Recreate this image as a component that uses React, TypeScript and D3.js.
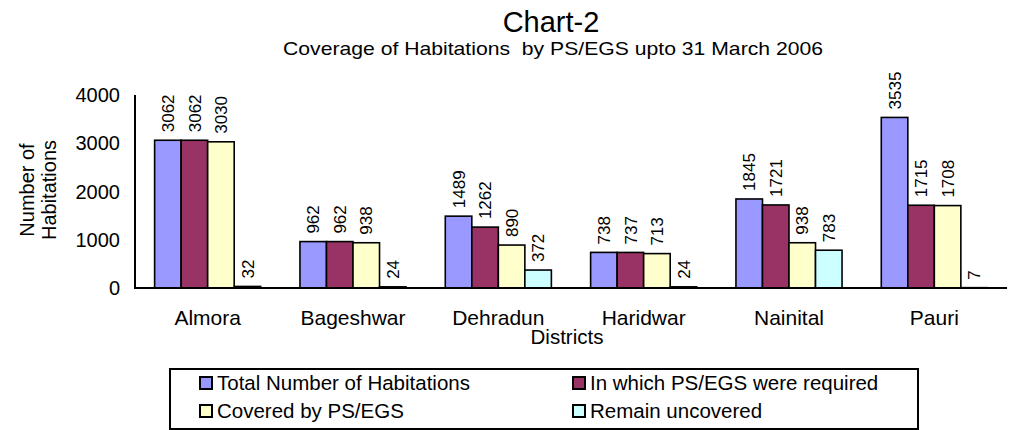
import React, { useEffect, useRef } from 'react';
import * as d3 from 'd3';

// chart values
const districts = ['Almora', 'Bageshwar', 'Dehradun', 'Haridwar', 'Nainital', 'Pauri'];
const seriesNames = [
  'Total Number of Habitations',
  'In which PS/EGS were required',
  'Covered by PS/EGS',
  'Remain uncovered',
];
const totalHabitations = [3062, 962, 1489, 738, 1845, 3535];
const psEgsRequired = [3062, 962, 1262, 737, 1721, 1715];
const coveredByPsEgs = [3030, 938, 890, 713, 938, 1708];
const remainUncovered = [32, 24, 372, 24, 783, 7];
const yTicks = [0, 1000, 2000, 3000, 4000];
const seriesColors = ['#9999FF', '#993366', '#FFFFCC', '#CCFFFF'];

const App = () => {
  const svgRef = useRef<SVGSVGElement>(null);

  useEffect(() => {
    const width = 1009;
    const height = 430;
    const font = '"Liberation Sans", Arial, sans-serif';

    const svg = d3.select(svgRef.current);
    svg.selectAll('*').remove();
    svg.attr('width', width).attr('height', height).style('font-family', font);

    const allSeries = [totalHabitations, psEgsRequired, coveredByPsEgs, remainUncovered];

    // scales
    const x = d3.scaleBand<string>()
      .domain(districts)
      .range([135, 1007])
      .paddingInner(0.27)
      .paddingOuter(0.135);
    const xSub = d3.scaleBand<number>()
      .domain(d3.range(seriesNames.length))
      .range([0, x.bandwidth()]);
    const y = d3.scaleLinear().domain([0, 4000]).range([288, 95]);

    // titles
    svg.append('text')
      .attr('x', 551).attr('y', 32)
      .attr('text-anchor', 'middle')
      .attr('font-size', 29)
      .text('Chart-2');
    svg.append('text')
      .attr('x', 553).attr('y', 55)
      .attr('text-anchor', 'middle')
      .attr('font-size', 18.5)
      .attr('textLength', 540)
      .attr('lengthAdjust', 'spacingAndGlyphs')
      .style('white-space', 'pre')
      .text('Coverage of Habitations  by PS/EGS upto 31 March 2006');

    // y tick labels
    svg.append('g').selectAll('text')
      .data(yTicks)
      .enter()
      .append('text')
      .attr('x', 120)
      .attr('y', d => y(d))
      .attr('dy', '0.36em')
      .attr('text-anchor', 'end')
      .attr('font-size', 20)
      .text(d => d);

    // y axis title (two lines)
    const yTitle = svg.append('text')
      .attr('transform', 'translate(27,190) rotate(-90)')
      .attr('text-anchor', 'middle')
      .attr('font-size', 20);
    yTitle.append('tspan').attr('x', 0).attr('dy', '0.35em').text('Number of');
    yTitle.append('tspan').attr('x', 0).attr('dy', '1.08em').text('Habitations');

    // bars
    const groups = svg.append('g').selectAll('g')
      .data(districts)
      .enter()
      .append('g')
      .attr('transform', d => `translate(${x(d)},0)`);

    groups.each(function (_d, di) {
      const g = d3.select(this);
      allSeries.forEach((vals, si) => {
        const v = vals[di];
        const bx = xSub(si) as number;
        g.append('rect')
          .attr('x', bx)
          .attr('y', y(v))
          .attr('width', xSub.bandwidth())
          .attr('height', y(0) - y(v))
          .attr('fill', seriesColors[si])
          .attr('stroke', '#000')
          .attr('stroke-width', 1.6);
        g.append('text')
          .attr('transform', `translate(${bx + xSub.bandwidth() / 2},${y(v) - 8}) rotate(-90)`)
          .attr('dy', '0.36em')
          .attr('font-size', 17)
          .text(v);
      });
    });

    // axes lines
    svg.append('line')
      .attr('x1', 135).attr('x2', 135)
      .attr('y1', y(4000)).attr('y2', y(0))
      .attr('stroke', '#000').attr('stroke-width', 2);
    svg.append('line')
      .attr('x1', 134).attr('x2', 1007)
      .attr('y1', y(0)).attr('y2', y(0))
      .attr('stroke', '#000').attr('stroke-width', 2);

    // category labels
    svg.append('g').selectAll('text')
      .data(districts)
      .enter()
      .append('text')
      .attr('x', d => (x(d) as number) + x.bandwidth() / 2)
      .attr('y', 325)
      .attr('text-anchor', 'middle')
      .attr('font-size', 21)
      .text(d => d);

    svg.append('text')
      .attr('x', 567).attr('y', 344)
      .attr('text-anchor', 'middle')
      .attr('font-size', 20.5)
      .text('Districts');

    // legend
    svg.append('rect')
      .attr('x', 170).attr('y', 369)
      .attr('width', 748).attr('height', 60)
      .attr('fill', 'none')
      .attr('stroke', '#000')
      .attr('stroke-width', 2);

    const legendX = [200, 573];
    const legendY = [390, 418];
    const legend = svg.append('g').selectAll('g')
      .data(seriesNames)
      .enter()
      .append('g')
      .attr('transform', (_d, i) => `translate(${legendX[i % 2]},${legendY[Math.floor(i / 2)]})`);

    legend.append('rect')
      .attr('x', 0).attr('y', -13)
      .attr('width', 12).attr('height', 12)
      .attr('fill', (_d, i) => seriesColors[i])
      .attr('stroke', '#000')
      .attr('stroke-width', 2);

    legend.append('text')
      .attr('x', 17).attr('y', 0)
      .attr('font-size', 20.5)
      .text(d => d);
  }, []);

  return (
    <svg ref={svgRef} style={{ position: 'absolute', left: 0, top: 0 }}></svg>
  );
};

export default App;
